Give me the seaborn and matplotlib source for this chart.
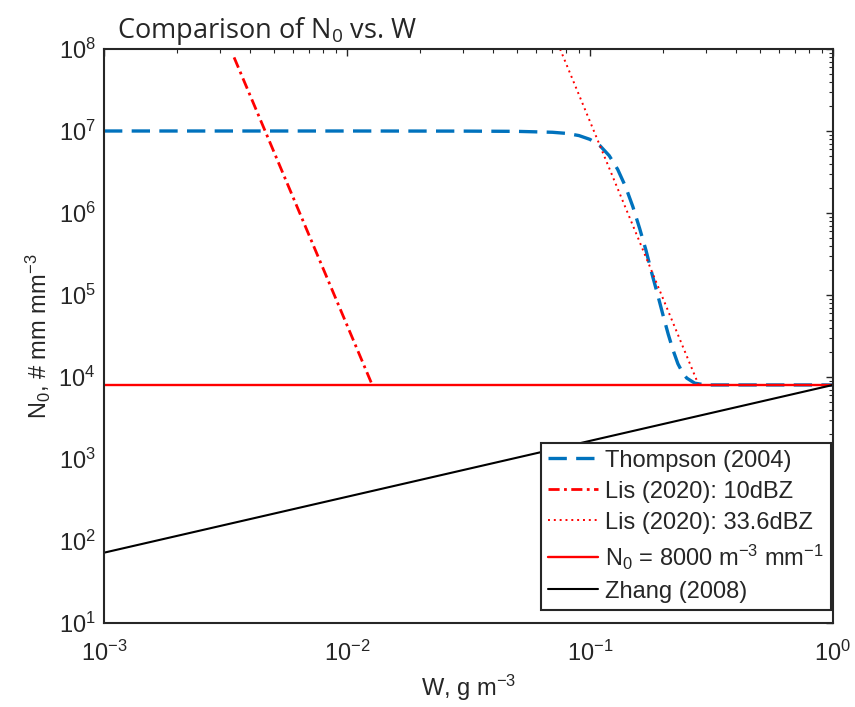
import numpy as np
import pandas as pd
import matplotlib
matplotlib.use("Agg")
import matplotlib.pyplot as plt
import matplotlib.ticker as mticker
import seaborn as sns

# Данные
thompson_w = [0.001, 0.01, 0.03, 0.05, 0.07, 0.08, 0.09, 0.10, 0.11, 0.12, 0.13,
              0.14, 0.15, 0.16, 0.17, 0.18, 0.19, 0.20, 0.21, 0.22, 0.23, 0.24,
              0.25, 0.27, 0.30, 1.0]
thompson_n0 = [1.0e7, 1.0e7, 9.97e6, 9.9e6, 9.65e6, 9.35e6, 8.8e6, 7.9e6, 6.6e6,
               5.0e6, 3.4e6, 2.1e6, 1.2e6, 6.5e5, 3.5e5, 1.8e5, 1.0e5, 5.6e4,
               3.3e4, 2.1e4, 1.45e4, 1.14e4, 9.7e3, 8.4e3, 8.0e3, 8.0e3]

lis10_w = [0.00343, 0.0127]
lis10_n0 = [7.9e7, 8.0e3]

lis33_w = [0.0753, 0.28]
lis33_n0 = [1.0e8, 8.0e3]

const_w = [0.001, 1.0]
const_n0 = [8000, 8000]

zhang_w = [0.001, 1.0]
zhang_n0 = [72, 8000]

labels = ["Thompson (2004)", "Lis (2020): 10dBZ", "Lis (2020): 33.6dBZ",
          r"$\mathregular{N_0}$ = 8000 m$^{\mathregular{-3}}$ mm$^{\mathregular{-1}}$",
          "Zhang (2008)"]

sns.set_style("white")
plt.rcParams["font.family"] = ["Liberation Sans", "DejaVu Sans"]
plt.rcParams["mathtext.default"] = "regular"

fig = plt.figure(figsize=(8.55, 7.07), dpi=100)
ax = fig.add_axes([104 / 855, 1 - 623 / 707, 729 / 855, 574 / 707])

blue = "#0072BD"
sns.lineplot(x=thompson_w, y=thompson_n0, ax=ax, color=blue, lw=2.4,
             linestyle=(0, (5.5, 2.8)), label=labels[0])
sns.lineplot(x=lis10_w, y=lis10_n0, ax=ax, color="red", lw=2.0,
             linestyle=(0, (4, 1.6, 1, 1.6)), label=labels[1])
sns.lineplot(x=lis33_w, y=lis33_n0, ax=ax, color="red", lw=1.4,
             linestyle=(0, (1, 2.0)), label=labels[2])
sns.lineplot(x=const_w, y=const_n0, ax=ax, color="red", lw=1.7, label=labels[3])
sns.lineplot(x=zhang_w, y=zhang_n0, ax=ax, color="black", lw=1.5, label=labels[4])

ax.set_xscale("log")
ax.set_yscale("log")
ax.set_xlim(1e-3, 1e0)
ax.set_ylim(1e1, 1e8)

ax.xaxis.set_major_locator(mticker.LogLocator(base=10, numticks=10))
ax.xaxis.set_minor_locator(mticker.LogLocator(base=10, subs=np.arange(2, 10), numticks=20))
ax.yaxis.set_major_locator(mticker.LogLocator(base=10, numticks=10))
ax.yaxis.set_minor_locator(mticker.LogLocator(base=10, subs=np.arange(2, 10), numticks=20))
ax.xaxis.set_minor_formatter(mticker.NullFormatter())
ax.yaxis.set_minor_formatter(mticker.NullFormatter())

ax.tick_params(which="both", direction="in", top=True, right=True, colors="#262626",
               labelcolor="#262626")
ax.tick_params(which="major", length=5, width=1.0, labelsize=17)
ax.tick_params(axis="x", which="major", pad=13)
ax.tick_params(axis="y", which="major", pad=6)
ax.tick_params(which="minor", length=3, width=0.8)
for s in ax.spines.values():
    s.set_linewidth(1.5)
    s.set_color("#262626")

ax.set_xlabel(r"W, g m$^{\mathregular{-3}}$", fontsize=17, color="#262626", labelpad=5)
ax.set_ylabel(r"$\mathregular{N_0}$, # mm mm$^{\mathregular{-3}}$", fontsize=17,
              color="#262626", labelpad=4)

leg = ax.legend(loc="lower right", bbox_to_anchor=(0.997, 0.023), borderaxespad=0,
                fontsize=17, frameon=True, fancybox=False, framealpha=1,
                handlelength=2.1, handletextpad=0.3, labelspacing=0.38,
                borderpad=0.3)
leg.get_frame().set_edgecolor("#262626")
leg.get_frame().set_linewidth(1.5)

fig.text(117 / 855, 1 - 31 / 707, r"Comparison of N$_{\mathregular{0}}$ vs. W",
         fontsize=19.5, family="Open Sans", ha="left", va="center")

fig.savefig("out.png", dpi=100)
